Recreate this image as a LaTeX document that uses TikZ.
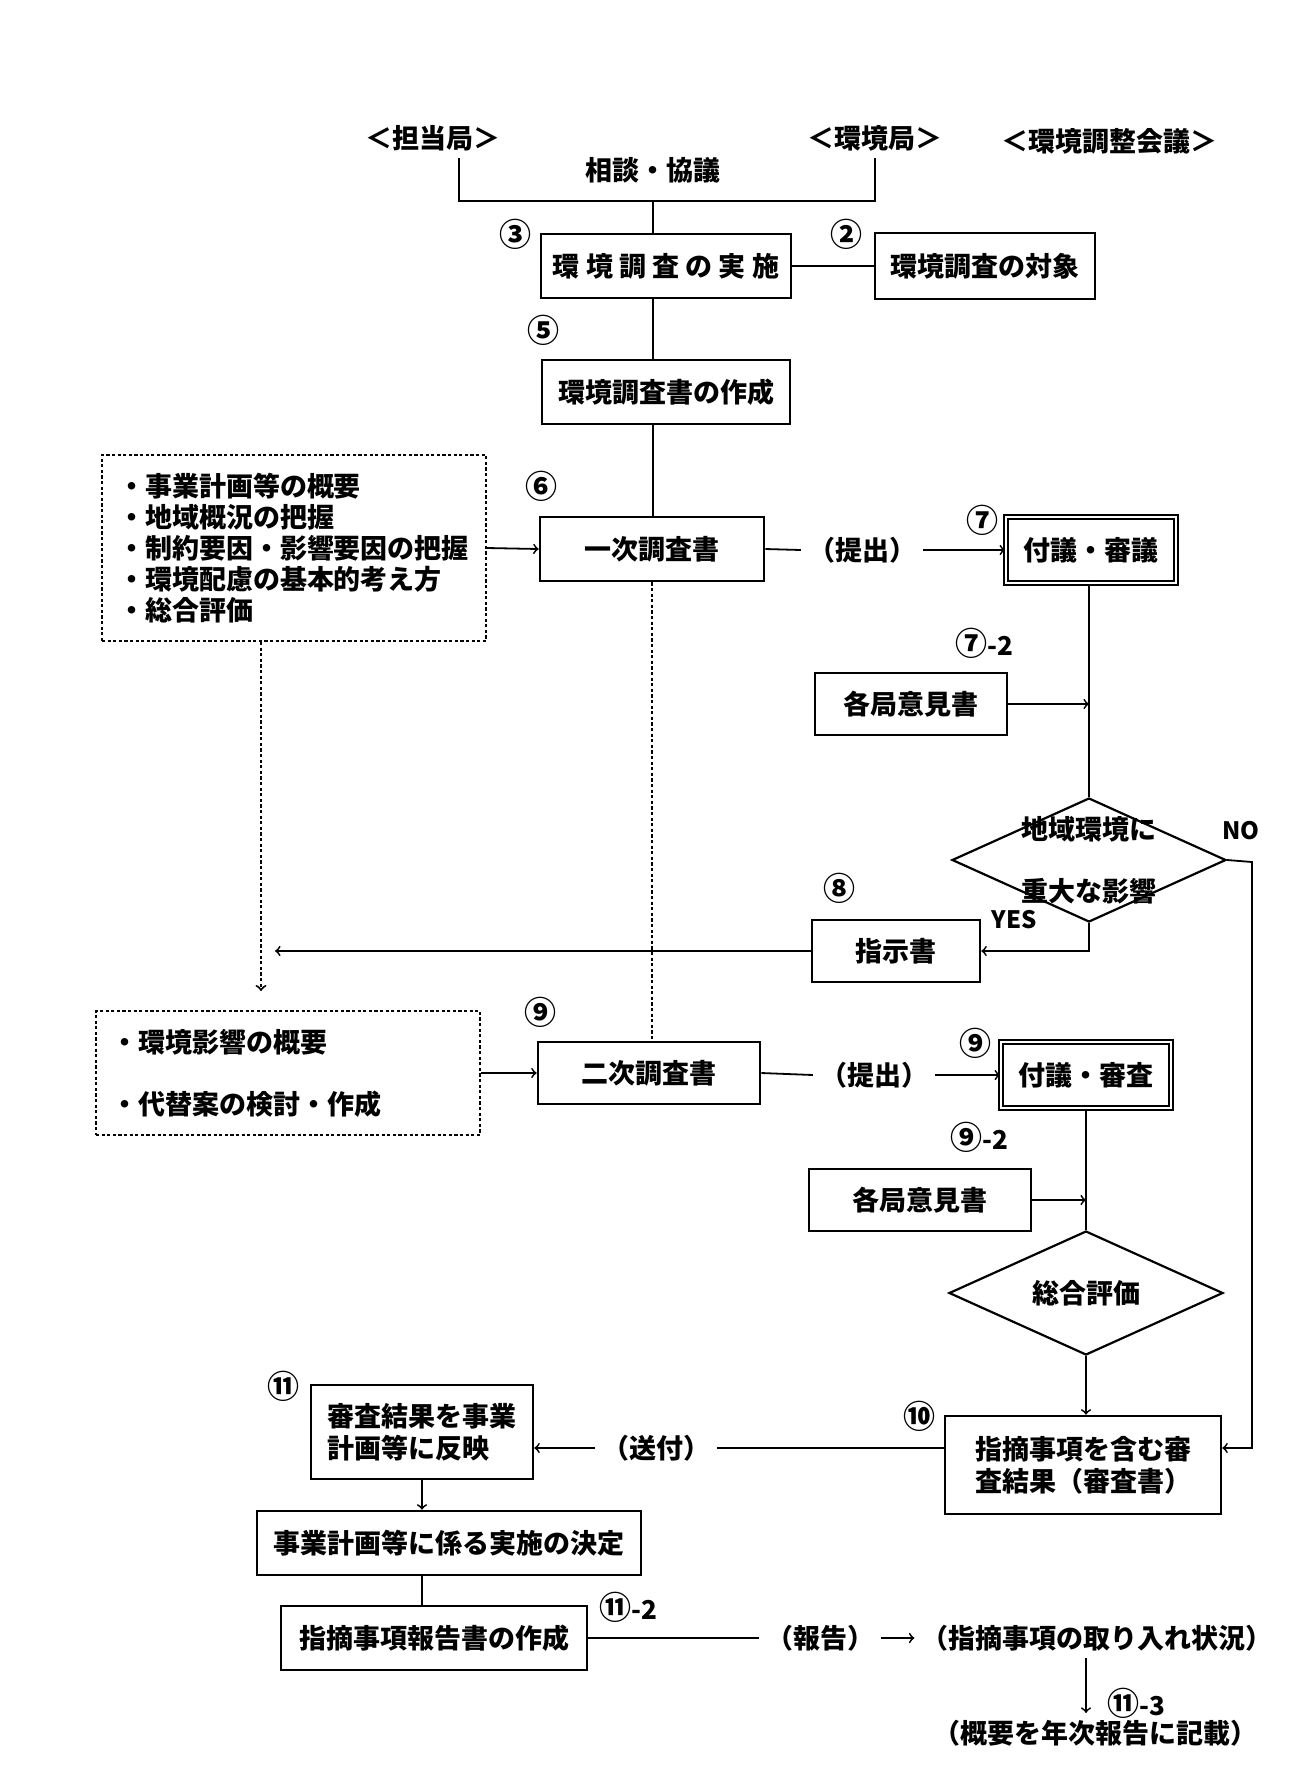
\documentclass[tikz,border=0pt]{standalone}
\usepackage{fontspec}
\setmainfont{Noto Sans CJK JP}
\usetikzlibrary{shapes.geometric}

\newcommand{\subno}[1]{{\fontsize{13pt}{14pt}\selectfont-#1}}

\tikzset{
	box/.style={draw,line width=1.3pt,inner sep=0,minimum height=32pt},
	boldbox/.style={draw,double,line width=0.9pt,double distance=1.2pt,inner sep=0,minimum height=33pt},
	memo/.style={draw,dash pattern=on 1.6pt off 1.2pt,line width=1pt,inner sep=8pt,align=left},
	decision/.style={draw,diamond,line width=1.1pt,inner sep=0,aspect=2.2,minimum width=137pt,minimum height=62pt},
	num/.style={inner sep=0,font=\fontsize{16pt}{18pt}\selectfont\bfseries},
	tag/.style={inner sep=0,font=\fontsize{12pt}{14pt}\selectfont\bfseries},
	link/.style={line width=0.9pt},
	dotlink/.style={line width=1pt,dash pattern=on 1.6pt off 1.2pt},
}

\begin{document}
\begin{tikzpicture}[x=0.5pt,y=-0.5pt,font=\fontsize{13.5pt}{16pt}\selectfont\bfseries]
	\useasboundingbox (0,0) rectangle (1310,1774);
	% headings
	\node (tanto) at (433,138) {＜担当局＞};
	\node (kankyo) at (875,138) {＜環境局＞};
	\node (kaigi) at (1109,141) {＜環境調整会議＞};
	\node (kyogi) at (653,170) {相談・協議};
	\coordinate (bl) at (459,201);
	\coordinate (br) at (875,201);
	% boxes
	\node[box,minimum width=125pt] (jisshi) at (666,266) {環 境 調 査 の 実 施};
	\node[box,minimum width=110pt,minimum height=33pt] (taisho) at (985,266) {環境調査の対象};
	\node[box,minimum width=124pt] (sakusei) at (666,392) {環境調査書の作成};
	\node[box,minimum width=112pt] (ichiji) at (652,549) {一次調査書};
	\node[boldbox,minimum width=85pt] (fugi1) at (1091,550) {付議・審議};
	\node[box,minimum width=96pt,minimum height=31pt] (iken1) at (911,704) {各局意見書};
	\node[decision] (dia1) at (1089,860) {};
	\node[align=center,font=\fontsize{13.5pt}{17pt}\selectfont\bfseries] (dia1txt) at (1089,860) {地域環境に\\[14pt]重大な影響};
	\node[box,minimum width=84pt,minimum height=31pt] (shiji) at (896,951) {指示書};
	\node[memo,text width=176pt,minimum height=93pt,font=\fontsize{13.5pt}{15.5pt}\selectfont\bfseries] (memo1) at (294,548)
		{・事業計画等の概要\\・地域概況の把握\\・制約要因・影響要因の把握\\・環境配慮の基本的考え方\\・総合評価};
	\node[box,minimum width=111pt,minimum height=31pt] (niji) at (649,1073) {二次調査書};
	\node[memo,text width=176pt,minimum height=62pt] (memo2) at (288,1073)
		{・環境影響の概要\\[15pt]・代替案の検討・作成};
	\node[boldbox,minimum width=85pt] (fugi2) at (1086,1075) {付議・審査};
	\node[box,minimum width=111pt,minimum height=31pt] (iken2) at (920,1200) {各局意見書};
	\node[decision] (dia2) at (1086,1293) {総合評価};
	\node[box,minimum width=138pt,minimum height=49pt,align=left] (kekka) at (1083,1465) {指摘事項を含む審\\査結果（審査書）};
	\node[box,minimum width=111pt,minimum height=47pt,align=left] (hanei) at (422,1432) {審査結果を事業\\計画等に反映};
	\node[box,minimum width=192pt] (kettei) at (449,1543) {事業計画等に係る実施の決定};
	\node[box,minimum width=153pt] (houkoku) at (434,1638) {指摘事項報告書の作成};
	% labels on connectors
	\node (teishutsu1) at (862,550) {（提出）};
	\node (teishutsu2) at (874,1075) {（提出）};
	\node (sofu) at (656,1448) {（送付）};
	\node (hokoku) at (820,1638) {（報告）};
	\node (jokyo) at (1097,1638) {（指摘事項の取り入れ状況）};
	\node (kisai) at (1095,1733) {（概要を年次報告に記載）};
	\node[tag] (yes) at (1014,920) {YES};
	\node[tag] (no) at (1241,831) {NO};
	\coordinate (drop) at (261,991);
	\coordinate (nocorner) at (1252,862);
	% step numbers
	\node[num] (n3) at (515,234) {③};
	\node[num] (n2) at (846,234) {②};
	\node[num] (n5) at (543,330) {⑤};
	\node[num] (n6) at (541,486) {⑥};
	\node[num] (n7) at (982,520) {⑦};
	\node[num] (n72) at (984,643) {⑦\subno{2}};
	\node[num] (n8) at (839,888) {⑧};
	\node[num] (n9) at (540,1012) {⑨};
	\node[num] (n9b) at (975,1043) {⑨};
	\node[num] (n92) at (979,1137) {⑨\subno{2}};
	\node[num] (n10) at (919,1416) {⑩};
	\node[num] (n11) at (283,1386) {⑪};
	\node[num] (n112) at (628,1607) {⑪\subno{2}};
	\node[num] (n113) at (1136,1703) {⑪\subno{3}};
	% connectors
	\draw[link] (bl |- tanto.south) -- (bl) -- (br) -- (br |- kankyo.south);
	\draw[link] (kyogi |- bl) -- (jisshi.north -| kyogi);
	\draw[link] (jisshi.east) -- (taisho.west);
	\draw[link] (jisshi.south -| kyogi) -- (sakusei.north -| kyogi);
	\draw[link] (sakusei.south -| kyogi) -- (ichiji.north -| kyogi);
	\draw[link,->] (memo1.east) -- (ichiji.west);
	\draw[link] (ichiji.east) -- (teishutsu1.west);
	\draw[link,->] (teishutsu1.east) -- (fugi1.west);
	\draw[link] (fugi1.south -| dia1) -- (dia1.north);
	\draw[link,->] (iken1.east) -- (iken1 -| dia1);
	\draw[link,->] (dia1.south) -- (dia1.south |- shiji) -- (shiji.east);
	\draw[link,->,shorten >=7pt] (shiji.west) -- (drop |- shiji);
	\draw[dotlink,->] (memo1.south -| drop) -- (drop);
	\draw[dotlink] (ichiji.south) -- (ichiji.south |- niji.north);
	\draw[link,->] (memo2.east) -- (niji.west);
	\draw[link] (niji.east) -- (teishutsu2.west);
	\draw[link,->] (teishutsu2.east) -- (fugi2.west);
	\draw[link] (fugi2.south) -- (dia2.north);
	\draw[link,->] (iken2.east) -- (iken2 -| dia2);
	\draw[link,->] (dia2.south) -- (kekka.north -| dia2);
	\draw[link,->] (dia1.east) -- (nocorner) -- (nocorner |- sofu) -- (kekka.east |- sofu);
	\draw[link] (kekka.west |- sofu) -- (sofu.east);
	\draw[link,->] (sofu.west) -- (hanei.east |- sofu);
	\draw[link,->] (hanei.south) -- (kettei.north -| hanei);
	\draw[link] (kettei.south -| hanei) -- (houkoku.north -| hanei);
	\draw[link] (houkoku.east) -- (hokoku.west);
	\draw[link,->] (hokoku.east) -- (jokyo.west);
	\draw[link,->] (jokyo.south -| dia2) -- (kisai.north -| dia2);
\end{tikzpicture}
\end{document}
